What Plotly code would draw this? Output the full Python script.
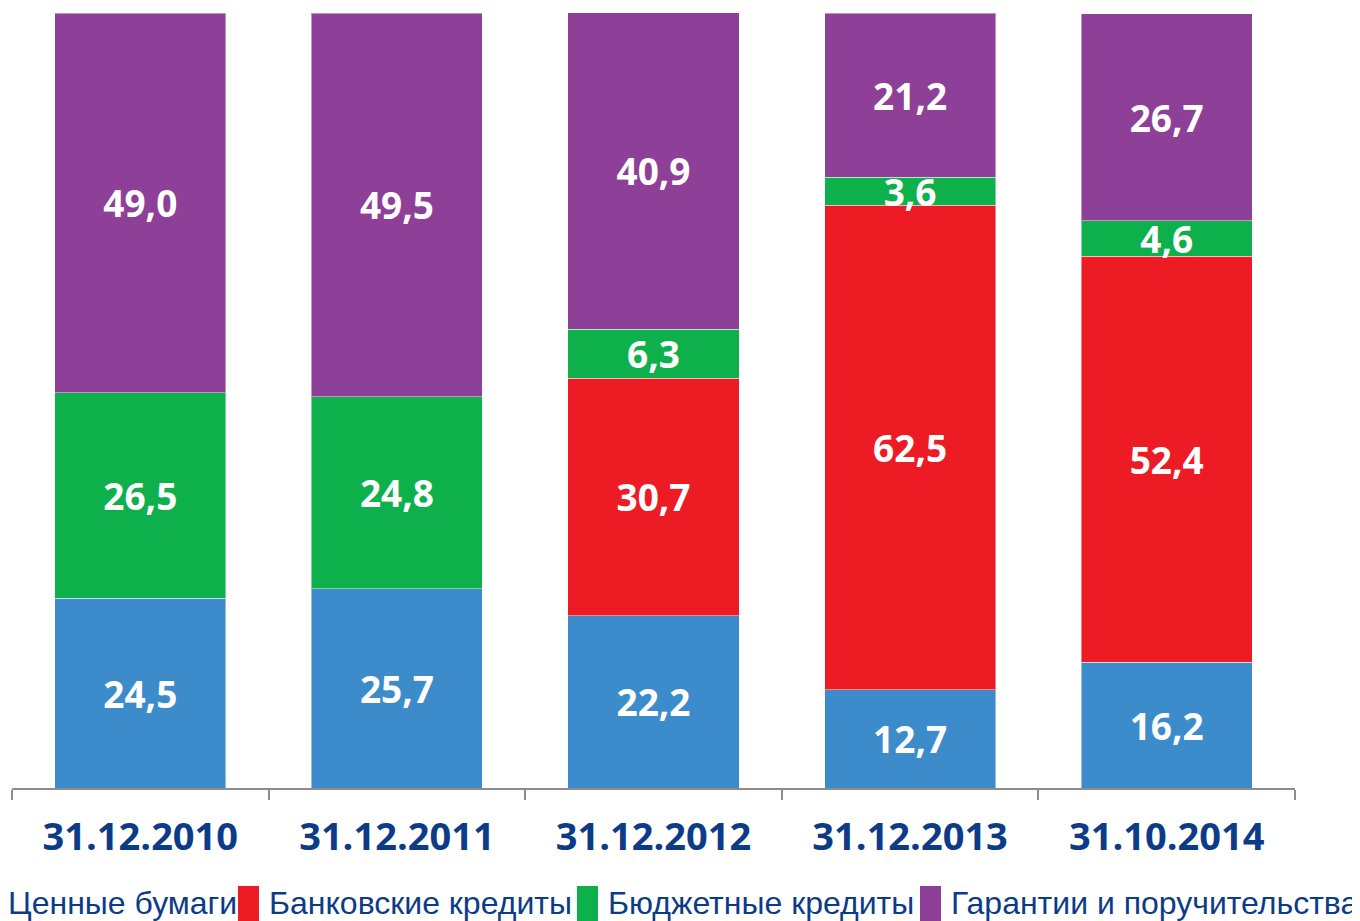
import plotly.graph_objects as go

# ---- data ----
categories = ["31.12.2010", "31.12.2011", "31.12.2012", "31.12.2013", "31.10.2014"]
series_names = ["Ценные бумаги", "Банковские кредиты", "Бюджетные кредиты", "Гарантии и поручительства"]
securities = [24.5, 25.7, 22.2, 12.7, 16.2]
bank_credits = [None, None, 30.7, 62.5, 52.4]
budget_credits = [26.5, 24.8, 6.3, 3.6, 4.6]
guarantees = [49.0, 49.5, 40.9, 21.2, 26.7]

# ---- styles ----
colors = ["#3C8BCA", "#ED1C24", "#0DB04B", "#8E3F97"]
label_font = dict(family="Open Sans", size=37, color="white", weight="bold")
tick_color = "#0C3C87"

OFF = 8  # page body margin of the browser
PAGE_W, PAGE_H = 1360, 921
W, H = PAGE_W - OFF, PAGE_H - OFF
# plot area in page pixels: x 12..1295, y 13..788
L, T = 12 - OFF, 13 - OFF
R = PAGE_W - 1295
B = PAGE_H - 788


def fmt(v):
    return "" if v is None else f"{v:.1f}".replace(".", ",")


fig = go.Figure()
for name, vals, col in zip(series_names,
                           [securities, bank_credits, budget_credits, guarantees],
                           colors):
    fig.add_trace(go.Bar(
        x=categories, y=vals, name=name,
        marker=dict(color=col, line=dict(color="rgba(255,255,255,0.45)", width=1)),
        text=[fmt(v) for v in vals],
        textposition="inside", insidetextanchor="middle",
        constraintext="none", textangle=0,
        textfont=label_font,
        showlegend=False,
        hoverinfo="skip",
    ))

# ---- custom legend (as in the reference: first swatch clipped at the left edge) ----
pw = 1295 - 12
ph = 788 - 13


def px_x(p):  # page pixel -> paper x
    return (p - 12) / pw


def px_y(p):  # page pixel -> paper y
    return (788 - p) / ph


swatch_left = [-23, 238, 577, 920]
swatch_w = 21
text_gap = 8
for name, col, sx in zip(series_names, colors, swatch_left):
    fig.add_shape(type="rect", xref="paper", yref="paper",
                  x0=px_x(sx), x1=px_x(sx + swatch_w),
                  y0=px_y(925), y1=px_y(886),
                  fillcolor=col, line=dict(width=0), layer="above")
    fig.add_annotation(xref="paper", yref="paper",
                       x=px_x(sx + swatch_w + text_gap), y=px_y(903),
                       xanchor="left", yanchor="middle",
                       text=name, showarrow=False,
                       font=dict(family="Liberation Sans", size=32, color=tick_color))

fig.update_layout(
    barmode="stack",
    bargap=0.333,
    width=W, height=H,
    margin=dict(l=L, r=R, t=T, b=B, autoexpand=False),
    paper_bgcolor="white", plot_bgcolor="white",
    showlegend=False,
)
fig.update_xaxes(
    type="category",
    showline=True, linecolor="#8C8C8C", linewidth=2,
    ticks="outside", tickson="boundaries", ticklen=10, tickcolor="#8C8C8C", tickwidth=2,
    tickfont=dict(family="Open Sans", size=38, color=tick_color, weight="bold"),
    ticklabelstandoff=14,
    showgrid=False, zeroline=False,
)
fig.update_yaxes(range=[0, 100], visible=False, showgrid=False, zeroline=False)

fig.write_html("out.html")
